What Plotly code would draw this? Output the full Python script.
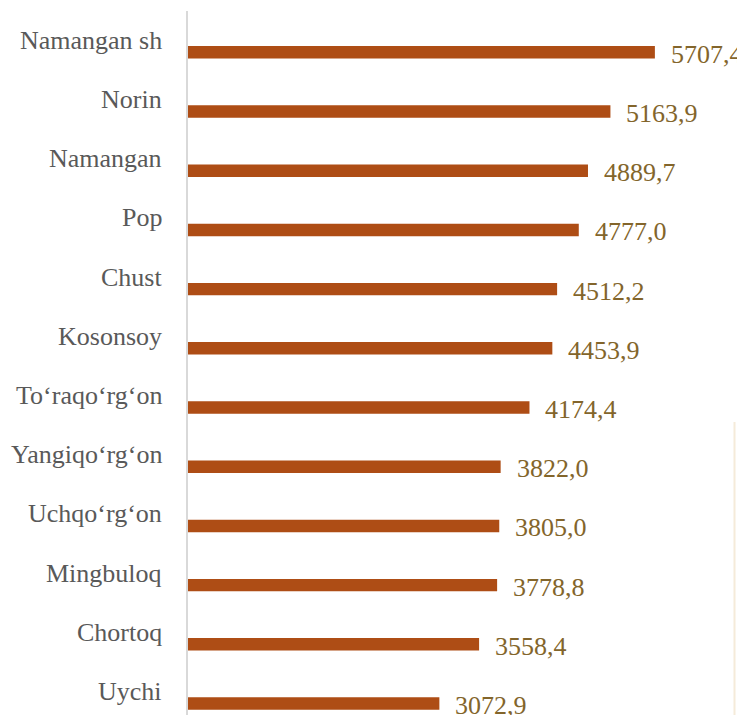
import plotly.graph_objects as go

categories = ["Namangan sh", "Norin", "Namangan", "Pop", "Chust", "Kosonsoy",
              "To‘raqo‘rg‘on", "Yangiqo‘rg‘on", "Uchqo‘rg‘on", "Mingbuloq",
              "Chortoq", "Uychi"]
values = [5707.4, 5163.9, 4889.7, 4777.0, 4512.2, 4453.9,
          4174.4, 3822.0, 3805.0, 3778.8, 3558.4, 3072.9]
value_labels = [f"{v:.1f}".replace(".", ",") for v in values]

BAR = "#AE4D15"
VAL = "#83652B"
CAT = "#595959"
FONT = "Liberation Serif, Times New Roman, serif"

fig = go.Figure()
fig.add_trace(go.Bar(
    y=categories, x=values, orientation="h",
    marker=dict(color=BAR, line=dict(width=0)),
    width=0.21, hoverinfo="skip",
))

ann = []
for c, v, t in zip(categories, values, value_labels):
    ann.append(dict(x=0, y=c, xref="paper", yref="y", text=c, showarrow=False,
                    xanchor="right", yanchor="middle", xshift=-24, yshift=12,
                    font=dict(family=FONT, size=26, color=CAT)))
    ann.append(dict(x=v, y=c, xref="x", yref="y", text=t, showarrow=False,
                    xanchor="left", yanchor="middle", xshift=14, yshift=-2,
                    font=dict(family=FONT, size=26, color=VAL)))

fig.update_layout(
    width=737, height=707,
    margin=dict(l=180, r=0, t=3, b=0),
    paper_bgcolor="white", plot_bgcolor="white",
    showlegend=False,
    annotations=ann,
    xaxis=dict(range=[0, 6809], visible=False, fixedrange=True),
    yaxis=dict(type="category", categoryorder="array", categoryarray=categories,
               range=[11.194, -0.698], showticklabels=False, showgrid=False,
               zeroline=False, showline=True, linecolor="#D9D9D9", linewidth=1.5,
               ticks=""),
    shapes=[dict(type="line", xref="paper", yref="paper",
                 x0=(734.5 - 188) / 557, x1=(734.5 - 188) / 557,
                 y0=0, y1=(715 - 422) / 704,
                 line=dict(color="#F5EBDA", width=2))],
)

fig.write_html("out.html")
